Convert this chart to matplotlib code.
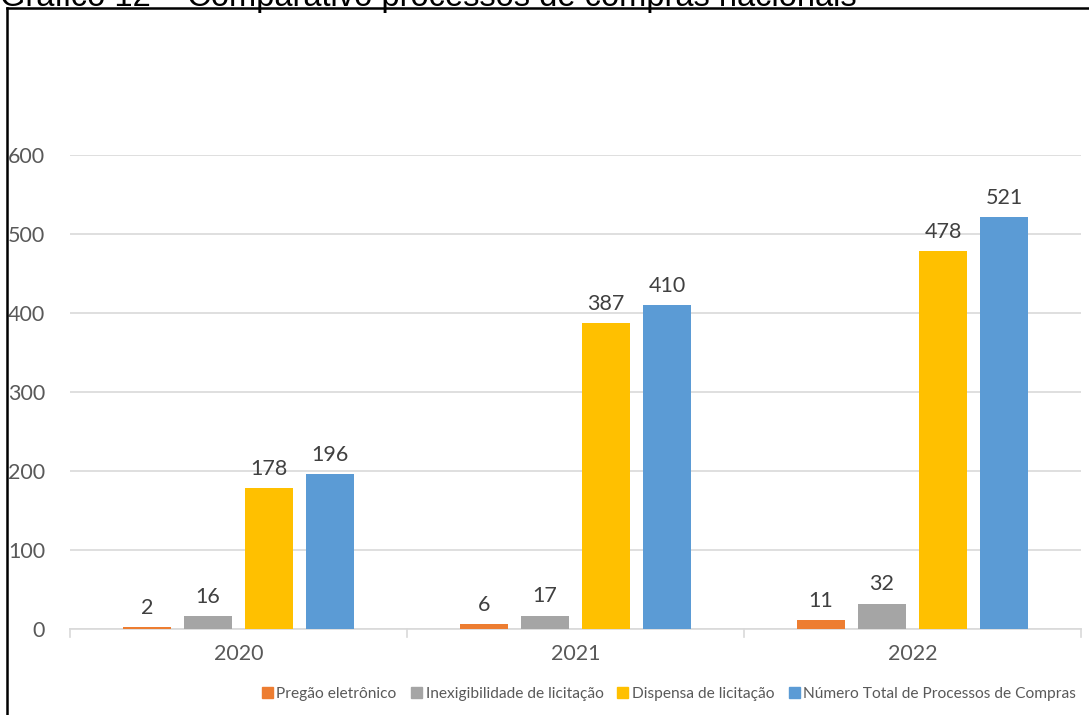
import numpy as np
import matplotlib
matplotlib.use("Agg")
import matplotlib.pyplot as plt
from matplotlib.lines import Line2D
from matplotlib.patches import Patch

years = ["2020", "2021", "2022"]
series_names = ["Pregão eletrônico", "Inexigibilidade de licitação",
                "Dispensa de licitação", "Número Total de Processos de Compras"]
pregao = [2, 6, 11]
inexigibilidade = [16, 17, 32]
dispensa = [178, 387, 478]
total = [196, 410, 521]
colors = ["#ED7D31", "#A5A5A5", "#FFC000", "#5B9BD5"]

W, H = 1089, 715
fig = plt.figure(figsize=(W / 100, H / 100), dpi=100)
ax = fig.add_axes([70 / W, (H - 629) / H, (1081 - 70) / W, (629 - 155) / H])

font = "Lato"
txt = "#595959"
x = np.arange(len(years))
width = 0.142
step = 0.181
values = [pregao, inexigibilidade, dispensa, total]
for i, (vals, c) in enumerate(zip(values, colors)):
    pos = x + (i - 1.5) * step
    ax.bar(pos, vals, width, color=c, zorder=3)
    for px, v in zip(pos, vals):
        ax.text(px, v + 12, str(v), ha="center", va="bottom",
                fontsize=15.5, color="#404040", family=font)

ax.set_xlim(-0.5, 2.5)
ax.set_ylim(0, 600)
ax.set_yticks(range(0, 601, 100))
ax.yaxis.grid(True, color="#D9D9D9", linewidth=1.2, zorder=0)
ax.set_xticks(x)
ax.set_xticklabels(years)
ax.tick_params(axis="x", length=0, pad=11, labelsize=15.5, labelcolor=txt)
ax.tick_params(axis="y", length=0, pad=18, labelsize=15.5, labelcolor=txt)
for lab in ax.get_xticklabels() + ax.get_yticklabels():
    lab.set_family(font)
for s in ["top", "right", "left"]:
    ax.spines[s].set_visible(False)
ax.spines["bottom"].set_color("#D9D9D9")
ax.spines["bottom"].set_linewidth(1.2)
# category separator ticks
for b in [-0.5, 0.5, 1.5, 2.5]:
    ax.plot([b, b], [0, -10], color="#D9D9D9", lw=1.2, clip_on=False)

handles = [Patch(color=c) for c in colors]
fig.legend(handles, series_names, loc="center", bbox_to_anchor=(669 / W, 1 - 694 / H),
           ncol=4, frameon=False, handlelength=0.7, handleheight=0.7,
           handletextpad=0.25, columnspacing=0.9,
           prop={"family": font, "size": 11.2}, labelcolor=txt)

# frame of the figure box (cropped screenshot)
fig.add_artist(Line2D([7 / W, 7 / W], [0, 1 - 8 / H], color="black", lw=1.8))
fig.add_artist(Line2D([7 / W, 1], [1 - 8 / H, 1 - 8 / H], color="black", lw=1.8))

# title cut off at the top
fig.text(0.0, 1 - 6 / H, "Gráfico 12 – Comparativo processos de compras nacionais",
         ha="left", va="baseline", fontsize=23.5, family="Liberation Sans", color="black")

fig.savefig("out.png", dpi=100)
